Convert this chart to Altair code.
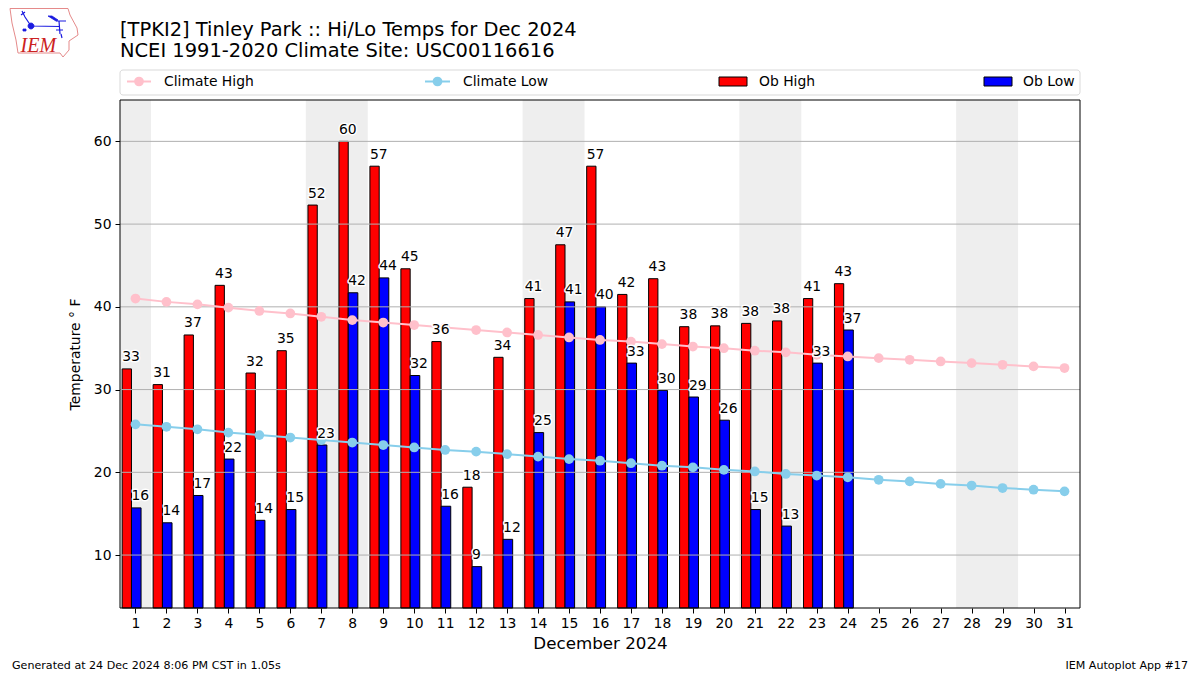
import altair as alt
import pandas as pd

days = list(range(1, 32))
ob_days = list(range(1, 25))
ob_high = [32.5, 30.6, 36.6, 42.6, 32.0, 34.7, 52.3, 60.0, 57.0, 44.6, 35.8, 18.2,
           33.9, 41.0, 47.5, 57.0, 41.5, 43.4, 37.6, 37.7, 38.0, 38.3, 41.0, 42.8]
ob_low = [15.7, 13.9, 17.2, 21.6, 14.2, 15.5, 23.3, 41.7, 43.5, 31.7, 15.9, 8.6,
          11.9, 24.8, 40.6, 40.0, 33.2, 29.9, 29.1, 26.3, 15.5, 13.5, 33.2, 37.2]
high_labels = ["33", "31", "37", "43", "32", "35", "52", "60", "57", "45", "36", "18",
               "34", "41", "47", "57", "42", "43", "38", "38", "38", "38", "41", "43"]
low_labels = ["16", "14", "17", "22", "14", "15", "23", "42", "44", "32", "16", "9",
              "12", "25", "41", "40", "33", "30", "29", "26", "15", "13", "33", "37"]
climate_high = [41.0, 40.6, 40.3, 39.9, 39.5, 39.2, 38.8, 38.4, 38.1, 37.8, 37.5, 37.2,
                36.9, 36.6, 36.3, 36.0, 35.8, 35.5, 35.2, 35.0, 34.7, 34.5, 34.2, 34.0,
                33.8, 33.6, 33.4, 33.2, 33.0, 32.8, 32.6]
climate_low = [25.8, 25.5, 25.2, 24.8, 24.5, 24.2, 23.9, 23.6, 23.3, 23.0, 22.7, 22.5,
               22.2, 21.9, 21.6, 21.4, 21.1, 20.8, 20.6, 20.3, 20.1, 19.8, 19.6, 19.4,
               19.1, 18.9, 18.6, 18.4, 18.1, 17.9, 17.7]
weekend_start = [0.5, 6.5, 13.5, 20.5, 27.5]
weekend_end = [1.5, 8.5, 15.5, 22.5, 29.5]
y_ticks = [10, 20, 30, 40, 50, 60]

FONT = "DejaVu Sans"
W, H = 960, 508
x_scale = alt.Scale(domain=[0.5, 31.5], nice=False, zero=False)
y_scale = alt.Scale(domain=[3.6, 65], nice=False, zero=False)

obs = pd.DataFrame({"day": ob_days, "high": ob_high, "low": ob_low,
                    "hl": high_labels, "ll": low_labels, "zero": [3.6] * 24})
clim = pd.DataFrame({"day": days, "chigh": climate_high, "clow": climate_low})
wk = pd.DataFrame({"s": weekend_start, "e": weekend_end})
grid = pd.DataFrame({"t": y_ticks})

x_axis = alt.Axis(values=days, format="d", title="December 2024", grid=False, domain=False,
                  labelFont=FONT, labelFontSize=13.9, labelColor="black", labelPadding=3,
                  tickColor="black", tickSize=5, titleFont=FONT, titleFontSize=16.7,
                  titleFontWeight="normal", titleColor="black", titlePadding=6, labelFlush=False)
y_axis = alt.Axis(values=y_ticks, title="Temperature ° F", grid=False, domain=False,
                  labelFont=FONT, labelFontSize=13.9, labelColor="black", labelPadding=4,
                  tickColor="black", tickSize=5, titleFont=FONT, titleFontSize=13.9,
                  titleFontWeight="normal", titleColor="black", titlePadding=11)


def qx(field):
    return alt.X(f"{field}:Q", scale=x_scale, axis=x_axis)


def qy(field):
    return alt.Y(f"{field}:Q", scale=y_scale, axis=y_axis)


shade = alt.Chart(wk).mark_rect(color="#eeeeee").encode(x=qx("s"), x2="e:Q")


def bars(field, color, lo, hi):
    return alt.Chart(obs).transform_calculate(
        a=f"datum.day + ({lo})", b=f"datum.day + ({hi})"
    ).mark_rect(color=color, stroke="black", strokeWidth=1).encode(
        x=qx("a"), x2="b:Q", y=qy(field), y2="zero:Q")


grid_rules = alt.Chart(grid).mark_rule(color="#b0b0b0", strokeWidth=1).encode(y=qy("t"))


def climate(field, color):
    b = alt.Chart(clim).encode(x=qx("day"), y=qy(field))
    return b.mark_line(color=color, strokeWidth=2) + b.mark_point(
        color=color, filled=True, opacity=1, size=95)


def labels(field, text, lo):
    b = alt.Chart(obs).transform_calculate(a=f"datum.day + ({lo})").encode(
        x=qx("a"), y=qy(field), text=f"{text}:N")
    opts = dict(font=FONT, fontSize=13.9, align="left", baseline="alphabetic", dy=-7.5, dx=0)
    return b.mark_text(stroke="white", strokeWidth=3, strokeJoin="round", **opts) + b.mark_text(color="black", **opts)


# ---- items drawn outside the plot area (page pixel - plot origin at 120,100)
one = pd.DataFrame({"k": [0]})
PX, PY = 120, 100


def px(x):
    return alt.value(x - PX)


def py(y):
    return alt.value(y - PY)


def free_text(t, x, y, size, align="left", color="black", **kw):
    return alt.Chart(one).mark_text(text=t, font=kw.pop("font", FONT), fontSize=size, align=align,
                                    baseline="middle", color=color, clip=False, **kw).encode(x=px(x), y=py(y))


frame = alt.Chart(one).mark_rect(fillOpacity=0, stroke="black", strokeWidth=1).encode(
    x=alt.value(0), x2=alt.value(W), y=alt.value(0), y2=alt.value(H))

legend_box = alt.Chart(one).mark_rect(fill="white", stroke="#d9d9d9", strokeWidth=1, cornerRadius=3).encode(
    x=px(120), x2=px(1080), y=py(70), y2=py(95))


def legend_line(x0, x1, color):
    return (alt.Chart(one).mark_rule(color=color, strokeWidth=2).encode(x=px(x0), x2=px(x1), y=py(81.5))
            + alt.Chart(one).mark_point(color=color, filled=True, opacity=1, size=95).encode(
                x=px((x0 + x1) / 2), y=py(81.5)))


def legend_rect(x0, x1, color):
    return alt.Chart(one).mark_rect(color=color, stroke="black", strokeWidth=1).encode(
        x=px(x0), x2=px(x1), y=py(77), y2=py(86))


iowa = "M10 8.5 L68 8.5 L70 15 L77 28 L78 35 L69 41 L69 50 L63 57 L60 53 L18 53 L16 40 L12 23 Z"
logo_lines = "M22 11 L25 17 L31 26 M21 15 L25 12 M31 26 L60 26.5 M59 21 L60 34 M56 30 L63 30 M61 34 L62 38 M66 21 L56 21"
logo_fill = "M28 26 a3 3 0 1 0 6 0 a3 3 0 1 0 -6 0 Z M48 16 L52 16 L58 20 L56 21 Z M23 29 L26 29 L26 31 L23 31 Z"


def shape(path, color, sw, filled=False):
    opts = dict(fill=color) if filled else dict(filled=False)
    return alt.Chart(one).mark_point(shape=path, size=4, stroke=color, strokeWidth=sw,
                                     opacity=1, clip=False, **opts).encode(x=px(0), y=py(0))


chart = (
    shade + bars("high", "#ff0000", -0.43, -0.13) + bars("low", "#0000ff", -0.13, 0.18)
    + grid_rules + climate("chigh", "#ffc0cb") + climate("clow", "#87ceeb")
    + labels("high", "hl", -0.43) + labels("low", "ll", -0.13) + frame
    + legend_box + legend_line(127, 151, "#ffc0cb") + free_text("Climate High", 164, 81.5, 13.9)
    + legend_line(425, 450, "#87ceeb") + free_text("Climate Low", 463, 81.5, 13.9)
    + legend_rect(719, 747, "#ff0000") + free_text("Ob High", 759, 81.5, 13.9)
    + legend_rect(984, 1012, "#0000ff") + free_text("Ob Low", 1023, 81.5, 13.9)
    + free_text("[TPKI2] Tinley Park :: Hi/Lo Temps for Dec 2024", 120, 29.5, 19.45)
    + free_text("NCEI 1991-2020 Climate Site: USC00116616", 120, 51, 19.45)
    + free_text("Generated at 24 Dec 2024 8:06 PM CST in 1.05s", 12, 666, 11.1)
    + free_text("IEM Autoplot App #17", 1188, 666, 11.1, align="right")
    + shape(iowa, "#e58a8a", 1) + shape(logo_lines, "#1a1ae0", 1.2) + shape(logo_fill, "#1a1ae0", 0.8, True)
    + free_text("IEM", 20.5, 45.5, 20, color="#cc2222", font="Liberation Serif", fontStyle="italic")
).properties(
    width=W, height=H,
    autosize=alt.AutoSizeParams(type="none"),
    padding={"left": 112, "top": 92, "right": 112, "bottom": 65},
).configure_view(stroke=None)

chart.save("out.html", embed_options={"renderer": "svg", "actions": False})
